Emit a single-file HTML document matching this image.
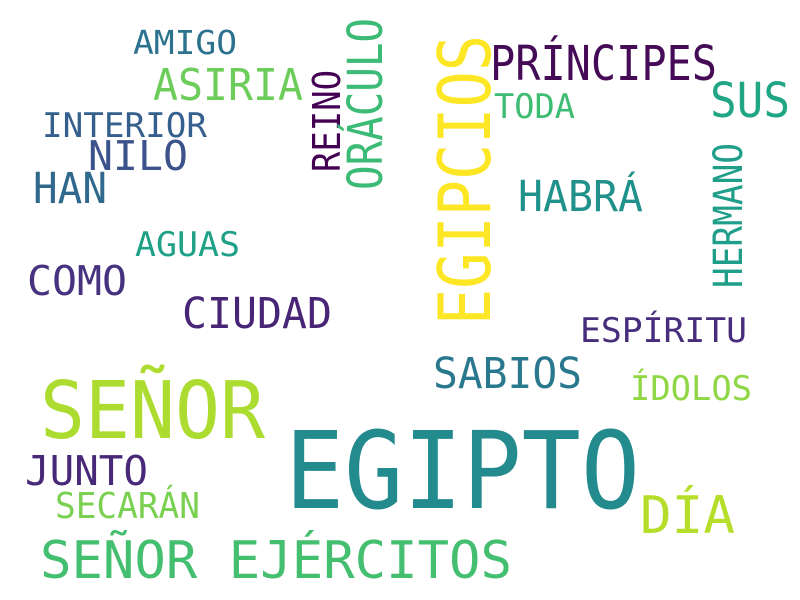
<!DOCTYPE html>
<html><head><meta charset="utf-8"><style>
html,body{margin:0;padding:0;background:#fff}
svg{display:block}
text{font-family:"DejaVu Sans Mono","Liberation Mono",monospace}
</style></head><body>
<svg id="cloud" width="800" height="600" viewBox="0 0 800 600" xmlns="http://www.w3.org/2000/svg">
<rect width="800" height="600" fill="#ffffff"></rect>
</svg>
<script>
const words = ["EGIPTO","SEÑOR","SEÑOR EJÉRCITOS","DÍA","JUNTO","SECARÁN","CIUDAD","COMO","AGUAS","HAN","NILO","INTERIOR","AMIGO","ASIRIA","REINO","ORÁCULO","EGIPCIOS","PRÍNCIPES","TODA","SUS","HABRÁ","HERMANO","ESPÍRITU","SABIOS","ÍDOLOS"];
const colors = ["#238a8d","#addc30","#44bf70","#b5de2b","#482878","#7ad151","#482576","#46327e","#1fa187","#31688e","#3b528b","#355f8d","#2c728e","#6ccd5a","#440154","#3bbb75","#fde725","#450b57","#3fbc73","#21a685","#21918c","#1f9e89","#472d7b","#2a788e","#8fd744"];
// layout boxes: [x1, x2, y1(cap top), y2(baseline), vertical]
const boxes = [
[285,640,430,508,0],[40,265,380,438,0],[40,512,540,578,0],[640,735,495,533,0],
[25,148,455,485,0],[55,200,492,518,0],[182,332,297,328,0],[27,127,265,295,0],
[135,240,231,256,0],[33,107,172,203,0],[88,188,140,170,0],[42,207,112,137,0],
[133,237,30,54,0],[153,303,68,100,0],[312,340,70,172,1],[347,382,18,190,1],
[437,490,35,325,1],[490,717,45,80,0],[494,575,93,118,0],[710,790,82,117,0],
[518,643,180,211,0],[713,742,143,288,1],[580,747,317,342,0],[433,582,357,388,0],[630,752,375,400,0]
];
const svg = document.getElementById('cloud');
const NS = "http://www.w3.org/2000/svg";
words.forEach((w,i)=>{
  const [x1,x2,y1,y2,v] = boxes[i];
  const t = document.createElementNS(NS,'text');
  t.textContent = w;
  t.setAttribute('fill', colors[i]);
  t.setAttribute('lengthAdjust','spacingAndGlyphs');
  if(!v){
    const size = (y2-y1)/0.73;
    t.setAttribute('x', x1);
    t.setAttribute('y', y2);
    t.setAttribute('font-size', size.toFixed(1));
    t.setAttribute('textLength', x2-x1);
  } else {
    const size = (x2-x1)/0.73;
    const cx = (x1+x2)/2, cy = (y1+y2)/2;
    t.setAttribute('x', cx);
    t.setAttribute('y', cy + (x2-x1)/2);
    t.setAttribute('text-anchor','middle');
    t.setAttribute('font-size', size.toFixed(1));
    t.setAttribute('textLength', y2-y1);
    t.setAttribute('transform', `rotate(-90 ${cx} ${cy})`);
  }
  
  
  svg.appendChild(t);
});
</script>
</body></html>
